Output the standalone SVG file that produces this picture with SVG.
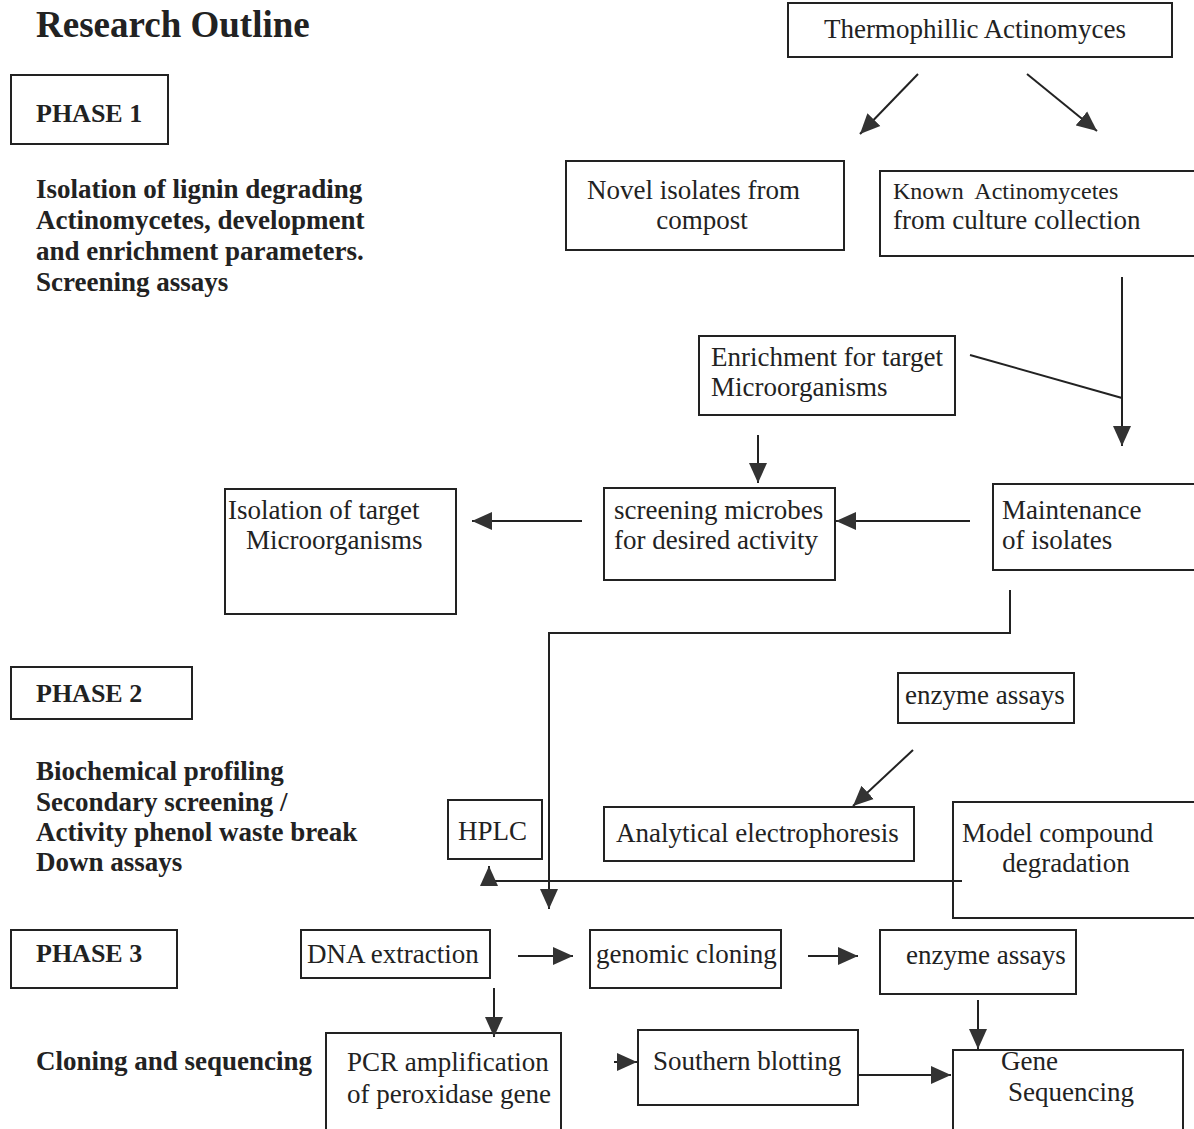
<svg xmlns="http://www.w3.org/2000/svg" width="1194" height="1129" viewBox="0 0 1194 1129">
<defs>
<marker id="ah" markerUnits="userSpaceOnUse" markerWidth="22" markerHeight="20" refX="20" refY="10" orient="auto">
<path d="M0,1 L20,10 L0,19 Z" fill="#333"/>
</marker>
</defs>
<style>
.box{fill:#fff;stroke:#222;stroke-width:2}
.t{font-family:"Liberation Serif","Times New Roman",serif;font-size:27px;fill:#222}
.b{font-family:"Liberation Serif","Times New Roman",serif;font-size:27px;font-weight:bold;fill:#222}
.c{fill:none;stroke:#222;stroke-width:2}
.a{fill:none;stroke:#222;stroke-width:2;marker-end:url(#ah)}
</style>
<rect width="1194" height="1129" fill="#fff"/>

<g id="title"><text class="b" x="36" y="37" style="font-size:37px">Research Outline</text></g>

<g id="phase1"><rect class="box" x="11" y="75" width="157" height="69"/><text class="b" x="36" y="122" style="font-size:26px">PHASE 1</text></g>
<g id="phase1-desc">
<text class="b" x="36" y="198">Isolation of lignin degrading</text>
<text class="b" x="36" y="229">Actinomycetes, development</text>
<text class="b" x="36" y="260">and enrichment parameters.</text>
<text class="b" x="36" y="291">Screening assays</text>
</g>

<g id="thermo"><rect class="box" x="788" y="3" width="384" height="54"/><text class="t" x="975" y="38" text-anchor="middle">Thermophillic Actinomyces</text></g>
<g id="novel"><rect class="box" x="566" y="161" width="278" height="89"/><text class="t" x="587" y="199">Novel isolates from</text><text class="t" x="702" y="229" text-anchor="middle">compost</text></g>
<g id="known"><rect class="box" x="880" y="171" width="320" height="85"/><text class="t" x="893" y="199" style="font-size:24px">Known&#160; Actinomycetes</text><text class="t" x="893" y="229">from culture collection</text></g>
<g id="enrich"><rect class="box" x="699" y="336" width="256" height="79"/><text class="t" x="711" y="366">Enrichment for target</text><text class="t" x="711" y="396">Microorganisms</text></g>
<g id="screen"><rect class="box" x="604" y="488" width="231" height="92"/><text class="t" x="614" y="519">screening microbes</text><text class="t" x="614" y="549">for desired activity</text></g>
<g id="isolation"><rect class="box" x="225" y="489" width="231" height="125"/><text class="t" x="228" y="519">Isolation of target</text><text class="t" x="246" y="549">Microorganisms</text></g>
<g id="maint"><rect class="box" x="993" y="484" width="210" height="86"/><text class="t" x="1002" y="519">Maintenance</text><text class="t" x="1002" y="549">of isolates</text></g>

<g id="phase2"><rect class="box" x="11" y="667" width="181" height="52"/><text class="b" x="36" y="702" style="font-size:26px">PHASE 2</text></g>
<g id="phase2-desc">
<text class="b" x="36" y="780">Biochemical profiling</text>
<text class="b" x="36" y="811">Secondary screening /</text>
<text class="b" x="36" y="841">Activity phenol waste break</text>
<text class="b" x="36" y="871">Down assays</text>
</g>
<g id="enzyme1"><rect class="box" x="898" y="673" width="176" height="50"/><text class="t" x="905" y="704">enzyme assays</text></g>
<g id="hplc"><rect class="box" x="448" y="800" width="94" height="59"/><text class="t" x="458" y="840">HPLC</text></g>
<g id="electro"><rect class="box" x="604" y="807" width="310" height="54"/><text class="t" x="616" y="842">Analytical electrophoresis</text></g>
<g id="model"><rect class="box" x="953" y="802" width="250" height="116"/><text class="t" x="962" y="842">Model compound</text><text class="t" x="1066" y="872" text-anchor="middle">degradation</text></g>

<g id="phase3"><rect class="box" x="11" y="930" width="166" height="58"/><text class="b" x="36" y="962" style="font-size:26px">PHASE 3</text></g>
<g id="phase3-desc"><text class="b" x="36" y="1070">Cloning and sequencing</text></g>
<g id="dna"><rect class="box" x="301" y="930" width="189" height="48"/><text class="t" x="307" y="963">DNA extraction</text></g>
<g id="genomic"><rect class="box" x="590" y="930" width="191" height="58"/><text class="t" x="596" y="963">genomic cloning</text></g>
<g id="enzyme2"><rect class="box" x="880" y="930" width="196" height="64"/><text class="t" x="906" y="964">enzyme assays</text></g>
<g id="pcr"><rect class="box" x="326" y="1033" width="235" height="110"/><text class="t" x="347" y="1071">PCR amplification</text><text class="t" x="347" y="1103">of peroxidase gene</text></g>
<g id="southern"><rect class="box" x="638" y="1030" width="220" height="75"/><text class="t" x="653" y="1070">Southern blotting</text></g>
<g id="gene"><rect class="box" x="953" y="1050" width="230" height="90"/><text class="t" x="1001" y="1070">Gene</text><text class="t" x="1008" y="1101">Sequencing</text></g>

<g id="connectors">
<line class="a" x1="918" y1="74" x2="860" y2="134"/>
<line class="a" x1="1027" y1="74" x2="1097" y2="131"/>
<line class="a" x1="1122" y1="277" x2="1122" y2="446"/>
<line class="c" x1="970" y1="355" x2="1122" y2="398"/>
<line class="a" x1="758" y1="435" x2="758" y2="483"/>
<line class="a" x1="970" y1="521" x2="836" y2="521"/>
<line class="a" x1="582" y1="521" x2="472" y2="521"/>
<polyline class="a" points="1010,590 1010,633 549,633 549,909"/>
<line class="a" x1="913" y1="750" x2="853" y2="806"/>
<polyline class="a" points="962,881 489,881 489,866"/>
<line class="a" x1="518" y1="956" x2="573" y2="956"/>
<line class="a" x1="808" y1="956" x2="858" y2="956"/>
<line class="a" x1="494" y1="988" x2="494" y2="1037"/>
<line class="a" x1="978" y1="1000" x2="978" y2="1049"/>
<line class="a" x1="614" y1="1062" x2="637" y2="1062"/>
<line class="a" x1="858" y1="1075" x2="951" y2="1075"/>
</g>
</svg>
